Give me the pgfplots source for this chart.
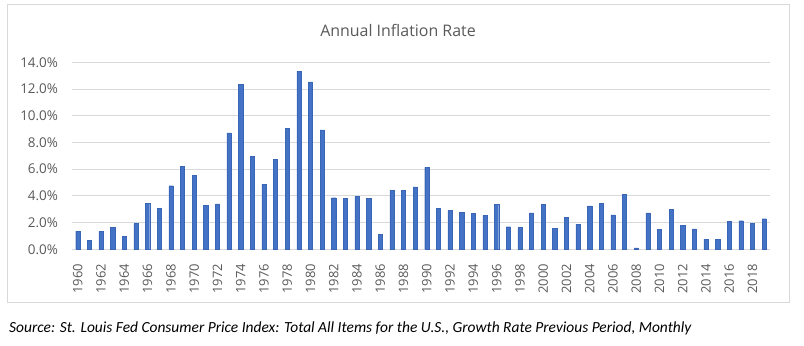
\documentclass[border=0pt]{standalone}
\usepackage{pgfplots}
\pgfplotsset{compat=1.18}
\usepackage{pgfplotstable}
\usepackage{fontspec}
\setmainfont{Open Sans}
\newfontfamily\srcfont{Carlito}
\definecolor{barblue}{HTML}{4472C4}
\definecolor{baredge}{HTML}{3A66B8}
\definecolor{gridgray}{HTML}{D9D9D9}
\definecolor{labgray}{HTML}{595959}
\definecolor{framegray}{HTML}{D9D9D9}
\pgfplotstableread{
idx year val
0 1960 1.37
1 1961 0.67
2 1962 1.35
3 1963 1.64
4 1964 0.97
5 1965 1.94
6 1966 3.46
7 1967 3.04
8 1968 4.76
9 1969 6.20
10 1970 5.56
11 1971 3.29
12 1972 3.41
13 1973 8.72
14 1974 12.36
15 1975 6.95
16 1976 4.88
17 1977 6.73
18 1978 9.04
19 1979 13.33
20 1980 12.53
21 1981 8.94
22 1982 3.86
23 1983 3.81
24 1984 3.99
25 1985 3.81
26 1986 1.10
27 1987 4.43
28 1988 4.43
29 1989 4.68
30 1990 6.13
31 1991 3.06
32 1992 2.91
33 1993 2.77
34 1994 2.69
35 1995 2.54
36 1996 3.34
37 1997 1.69
38 1998 1.62
39 1999 2.72
40 2000 3.39
41 2001 1.57
42 2002 2.39
43 2003 1.89
44 2004 3.26
45 2005 3.44
46 2006 2.57
47 2007 4.09
48 2008 0.10
49 2009 2.72
50 2010 1.49
51 2011 2.99
52 2012 1.77
53 2013 1.52
54 2014 0.77
55 2015 0.75
56 2016 2.09
57 2017 2.14
58 2018 1.92
59 2019 2.29
}\inflation
\begin{document}
\begin{tikzpicture}[x=1bp,y=1bp]
\useasboundingbox (0,0) rectangle (804,345);
\draw[framegray, line width=0.9bp] (7.5,340.5) rectangle (789,43);
\node[font=\fontsize{16}{19}\selectfont, text=labgray] at (398,315) {Annual Inflation Rate};
\node[anchor=west, inner sep=0pt, font=\srcfont\itshape\fontsize{15.5}{17}\selectfont] at (9,17) {Source: St. Louis Fed Consumer Price Index: Total All Items for the U.S., Growth Rate Previous Period, Monthly};
\begin{axis}[
  at={(72bp,95.7bp)}, anchor=south west,
  scale only axis, width=698bp, height=187bp,
  xmin=-0.5, xmax=59.5, ymin=0, ymax=14,
  ybar, bar width=4.2bp,
  axis x line*=bottom, axis y line*=left,
  x axis line style={draw=gridgray, line width=0.9bp, -},
  y axis line style={draw=none},
  ytick={0,2,...,14},
  yticklabel={\pgfmathprintnumber[fixed,fixed zerofill,precision=1]{\tick}\%},
  /pgf/number format/assume math mode=true,
  yticklabel style={font=\fontsize{13.5}{15}\selectfont, text=labgray, anchor=east, xshift=-10.5bp},
  ytick style={draw=none},
  ymajorgrids, grid style={gridgray, line width=0.9bp},
  xtick={0,2,...,58},
  xticklabels={1960,1962,1964,1966,1968,1970,1972,1974,1976,1978,1980,1982,1984,1986,1988,1990,1992,1994,1996,1998,2000,2002,2004,2006,2008,2010,2012,2014,2016,2018},
  xticklabel style={font=\fontsize{13}{15}\selectfont, text=labgray, yshift=-7bp, rotate=90, anchor=east},
  xtick style={draw=none},
  extra x ticks={-0.5,1.5,...,59.5},
  extra x tick labels={},
  extra x tick style={tick align=outside, major tick length=5bp, tick style={draw=gridgray, line width=0.9bp}, grid=none},
  tick pos=left,
  clip=false,
]
\addplot[fill=barblue, draw=baredge, line width=0.4bp] table[x=idx, y=val] {\inflation};
\end{axis}
\end{tikzpicture}
\end{document}
